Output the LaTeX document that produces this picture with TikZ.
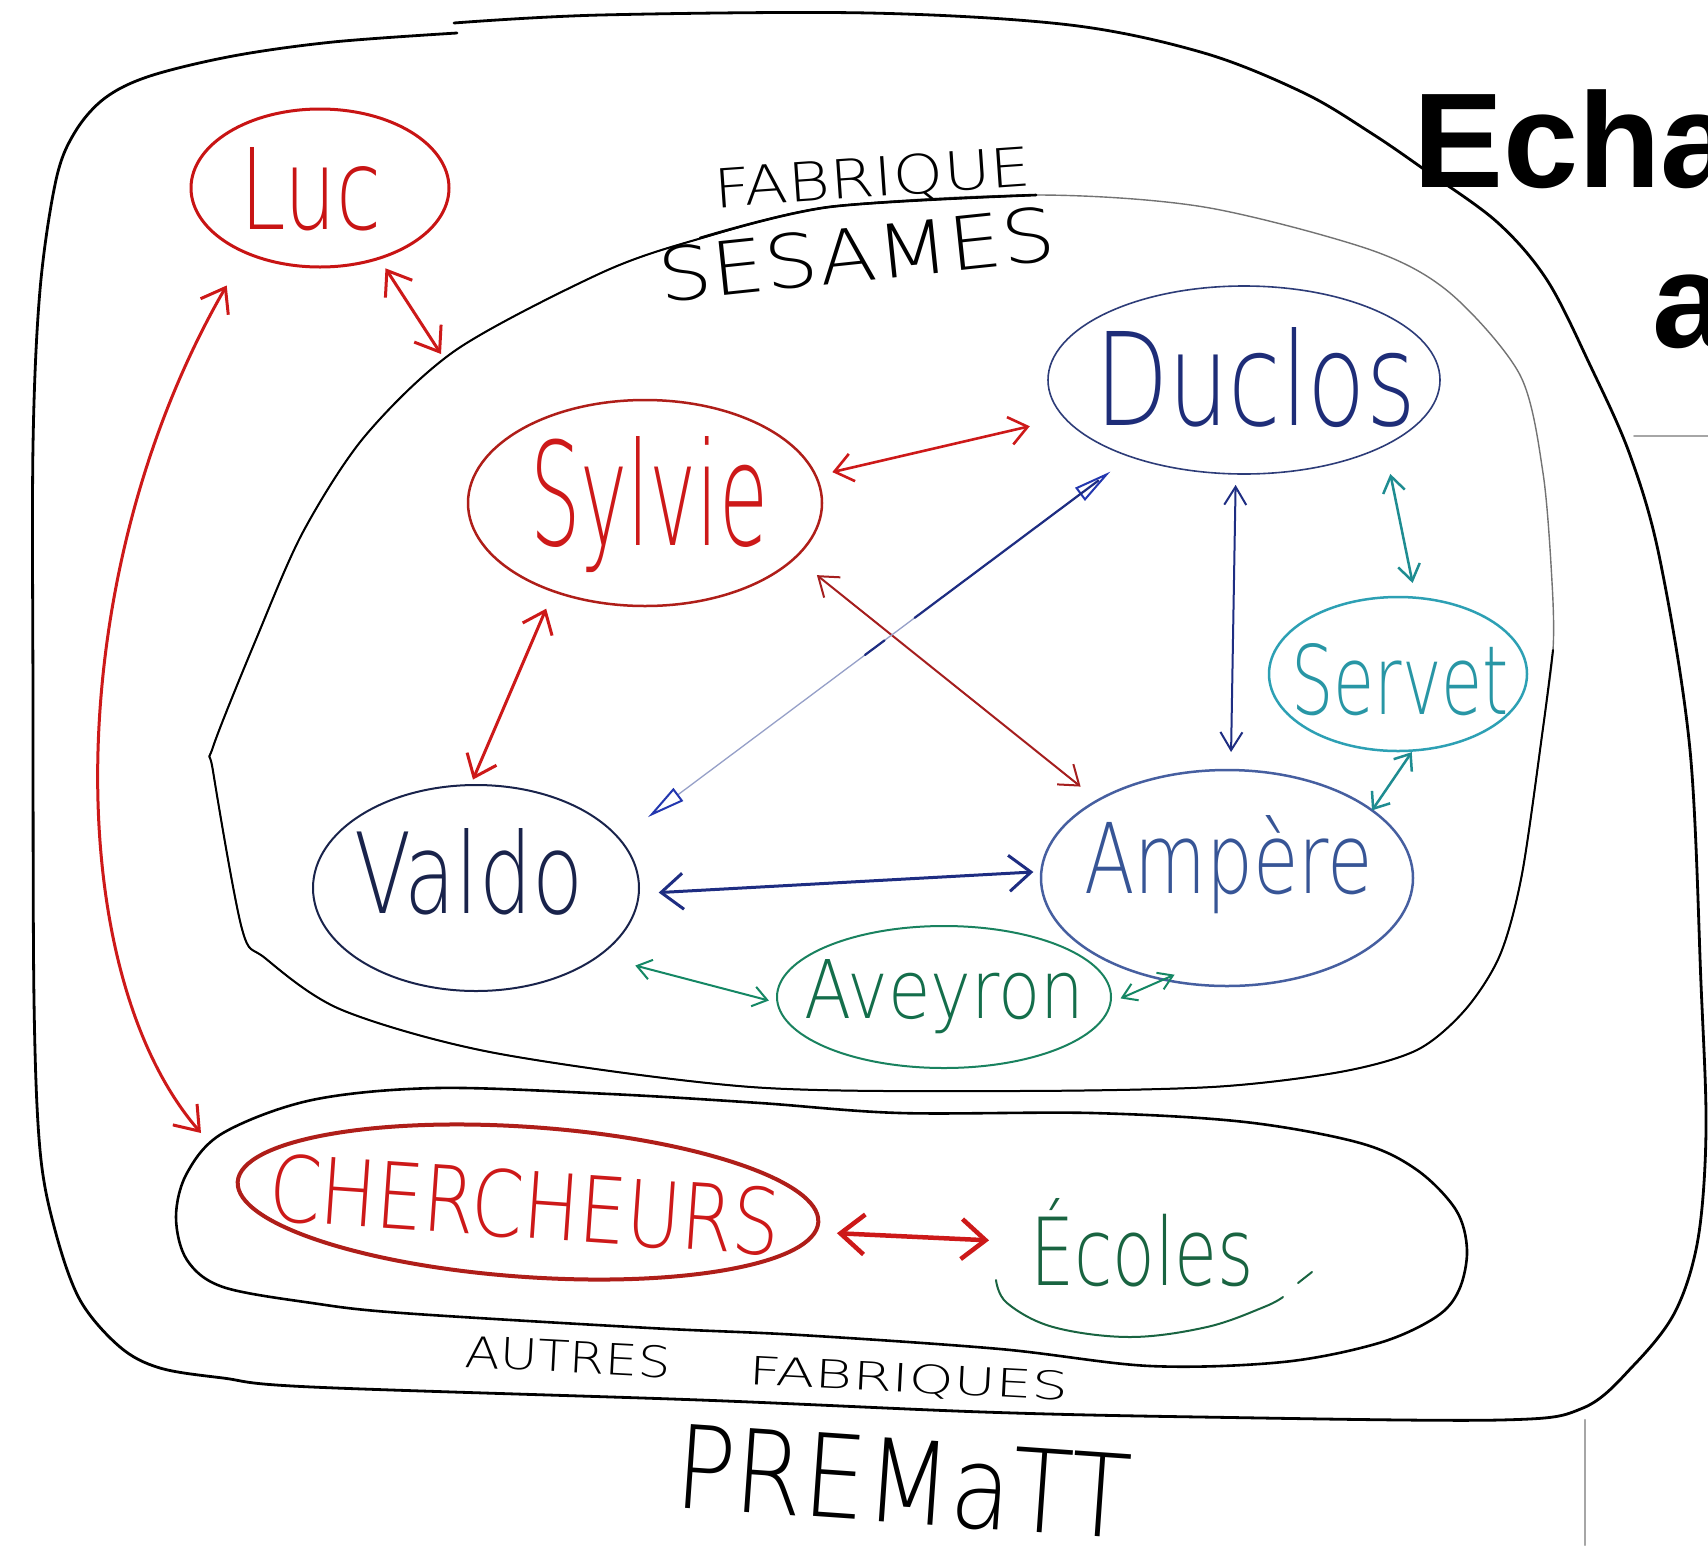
\documentclass[tikz,border=0pt]{standalone}
\usepackage{fontspec}
\usepackage{graphicx}
\usetikzlibrary{arrows.meta,shapes.geometric}
\IfFontExistsTF{DejaVu Sans ExtraLight}{\newfontfamily\hwfont{DejaVu Sans ExtraLight}}{%
  \IfFontExistsTF{DejaVu Sans Light}{\newfontfamily\hwfont{DejaVu Sans Light}}{\newfontfamily\hwfont{Carlito}}}
\newfontfamily\titlefont{Liberation Sans}
\newcommand\hw[3]{\resizebox{#1pt}{#2pt}{\hwfont\fontsize{100}{100}\selectfont #3}}
\definecolor{cRed}{RGB}{205,25,25}
\definecolor{cDkRed}{RGB}{165,30,30}
\definecolor{cLuc}{RGB}{200,20,20}
\definecolor{cSyl}{RGB}{175,30,25}
\definecolor{cDuc}{RGB}{45,60,120}
\definecolor{cDucT}{RGB}{30,45,120}
\definecolor{cSer}{RGB}{45,160,180}
\definecolor{cSerT}{RGB}{40,150,165}
\definecolor{cVal}{RGB}{25,35,75}
\definecolor{cAmp}{RGB}{70,95,160}
\definecolor{cAmpT}{RGB}{55,85,150}
\definecolor{cAve}{RGB}{25,130,95}
\definecolor{cAveT}{RGB}{20,110,75}
\definecolor{cEco}{RGB}{25,100,65}
\definecolor{cNavy}{RGB}{30,45,130}
\definecolor{cBlue}{RGB}{35,55,175}
\definecolor{cFaint}{RGB}{150,160,200}
\definecolor{cTeal}{RGB}{30,140,145}
\definecolor{cGreen}{RGB}{20,135,100}
\tikzset{
  bub/.style={ellipse, inner sep=0pt, outer sep=0pt},
  lbl/.style={inner sep=0pt, outer sep=0pt, anchor=base west},
  boundary/.style={draw=black, line cap=round, line join=round},
  twohead/.style 2 args={<->, >={Straight Barb[length=#1, width=#2]}},
}
\begin{document}
\begin{tikzpicture}[x=1pt,y=-1pt, line cap=round, line join=round]
\useasboundingbox (0,0) rectangle (1708,1545);
\fill[white] (0,0) rectangle (1708,1545);
\clip (0,0) rectangle (1708,1545);

% PREMATT outer boundary
\draw[boundary, line width=2.8pt] plot[smooth, tension=0.55] coordinates {
 (457,33) (333,42) (233,56) (150,76) (105,98) (75,132) (56,180) (40,290) (33,446)
 (33,700) (34,1000) (40,1150) (55,1230) (80,1300) (120,1347) (160,1368) (223,1378)
 (312,1387) (700,1400) (983,1412) (1200,1417) (1500,1420) (1583,1408) (1633,1366)
 (1675,1312) (1698,1239) (1706,1130) (1701,984) (1690,750) (1660,560) (1630,455)
 (1590,365) (1547,280) (1497,222) (1425,170) (1371,133) (1304,93) (1204,53)
 (1070,25) (869,13) (601,15) (454,23)};

% SESAMES boundary (faint everywhere, darker on left/bottom)
\draw[boundary, line width=1.4pt, draw=black!55] plot[smooth cycle, tension=0.5] coordinates {
 (456,350) (365,436) (303,532) (257,637) (213,747) (213,771) (242,929) (265,958)
 (342,1010) (495,1053) (751,1087) (1008,1091) (1212,1087) (1340,1072) (1417,1050)
 (1465,1010) (1500,955) (1522,874) (1543,728) (1553,650) (1552,582) (1543,473)
 (1520,375) (1450,293) (1371,250) (1204,207) (1036,195) (829,207) (695,240) (601,273)};
\draw[boundary, line width=2pt] plot[smooth, tension=0.5] coordinates {
 (1553,650) (1543,728) (1522,874) (1500,955) (1465,1010) (1417,1050) (1340,1072)
 (1212,1087) (1008,1091) (751,1087) (495,1053) (342,1010) (265,958) (242,929)
 (213,771) (213,747) (257,637) (303,532) (365,436) (456,350) (601,273) (695,240)
 (829,207) (1036,195)};
\draw[boundary, line width=2.6pt] plot[smooth, tension=0.5] coordinates {(700,238) (829,207) (1036,195)};

% Autres fabriques boundary
\draw[boundary, line width=2.6pt] plot[smooth cycle, tension=0.55] coordinates {
 (312,1100) (437,1088) (610,1094) (760,1103) (900,1113) (1092,1113) (1245,1122)
 (1360,1143) (1417,1170) (1456,1210) (1467,1250) (1459,1290) (1436,1317) (1379,1343)
 (1283,1362) (1150,1366) (1000,1349) (800,1335) (650,1328) (402,1313) (312,1303)
 (223,1287) (187,1260) (176,1217) (187,1173) (223,1133)};

% ellipses
\node[bub, draw=cLuc, line width=3pt, minimum width=258pt, minimum height=158pt] (luc) at (320,188) {};
\node[bub, draw=cSyl, line width=2.5pt, minimum width=354pt, minimum height=206pt] (sylvie) at (645,503) {};
\node[bub, draw=cDuc, line width=1.6pt, minimum width=392pt, minimum height=188pt] (duclos) at (1244,380) {};
\node[bub, draw=cSer, line width=2.5pt, minimum width=258pt, minimum height=154pt] (servet) at (1398,674) {};
\node[bub, draw=cVal, line width=2pt, minimum width=326pt, minimum height=206pt] (valdo) at (476,888) {};
\node[bub, draw=cAmp, line width=2.5pt, minimum width=372pt, minimum height=216pt] (ampere) at (1227,878) {};
\node[bub, draw=cAve, line width=2pt, minimum width=334pt, minimum height=142pt] (aveyron) at (944,997) {};
\node[bub, draw=cSyl, line width=4pt, minimum width=582pt, minimum height=150pt, rotate=-4] (cher) at (528,1202) {};

% texts
\node[lbl, text=cLuc] (luct) at (240,229) {\hw{141}{82}{Luc}};
\node[lbl, text=cRed] (sylviet) at (530,545) {\hw{238}{109}{Sylvie}};
\node[lbl, text=cDucT] (duclost) at (1095,425) {\hw{321}{98}{Duclos}};
\node[lbl, text=cSerT] (servett) at (1291,714) {\hw{218}{71}{Servet}};
\node[lbl, text=cVal] (valdot) at (354,913) {\hw{229}{85}{Valdo}};
\node[lbl, text=cAmpT] (amperet) at (1084,893) {\hw{289}{78}{Ampère}};
\node[lbl, text=cAveT] (aveyront) at (804,1018) {\hw{280}{59}{Aveyron}};
\node[lbl, text=cRed, rotate=-4] (chert) at (267,1220) {\hw{512}{68}{CHERCHEURS}};
\node[lbl, text=cEco] (ecoles) at (1030,1285) {\hw{224}{87}{Écoles}};
\node[lbl, rotate=4] (fab) at (715,208) {\hw{318}{40}{FABRIQUE}};
\node[lbl, rotate=6] (ses) at (661,302) {\hw{399}{55}{SESAMES}};
\node[lbl, rotate=-3] (autres) at (464,1367) {\hw{206}{32}{AUTRES}};
\node[lbl, rotate=-3] (fabs) at (748,1384) {\hw{320}{29}{FABRIQUES}};
\node[lbl, rotate=-4] (prematt) at (673,1507) {\hw{456}{84}{PREMaTT}};

% Ecoles partial ellipse
\draw[cEco, line width=2pt] plot[smooth, tension=0.6] coordinates {(996,1280) (1007,1303) (1053,1327) (1130,1337) (1207,1327) (1264,1307) (1283,1297)};
\draw[cEco, line width=2pt] (1298,1283) -- (1312,1272);

% free ends
\coordinate (sesA) at (441,354);
\coordinate (afab) at (201,1133);

% connectors
\draw[cRed, line width=3pt, twohead={22pt}{32pt}, shorten <=12pt] (luc.-50) -- (sesA);
\draw[cRed, line width=3pt, twohead={22pt}{32pt}, shorten <=38pt] (luc.221) .. controls (60,574) and (60,970) .. (afab);
\draw[cRed, line width=2.6pt, twohead={18pt}{28pt}, shorten <=17pt, shorten >=36pt] (sylvie.9) -- (duclos.192);
\draw[cDkRed, line width=2pt, twohead={18pt}{26pt}, shorten <=28pt, shorten >=22pt] (sylvie.-20) -- (ampere.149);
\draw[cRed, line width=3pt, twohead={20pt}{32pt}, shorten <=19pt, shorten >=6pt] (sylvie.224) -- (valdo.93);
% Duclos <-> Valdo: faint line with strong open heads, solid navy near Duclos
\draw[cFaint, line width=1.3pt, <->, >={Triangle[open,length=38pt,width=16pt,color=cBlue,line width=2pt]}, shorten <=25pt, shorten >=36pt] (duclos.214) -- (valdo.19);
\draw[cNavy, line width=2.2pt, shorten <=40pt, shorten >=369pt] (duclos.214) -- (valdo.19);
\draw[cNavy, line width=2.2pt, shorten <=307pt, shorten >=307pt] (duclos.214) -- (valdo.19);
\draw[cNavy, line width=2pt, twohead={18pt}{22pt}, shorten <=11pt, shorten >=18pt] (duclos.265) -- (ampere.88);
\draw[cTeal, line width=2.5pt, twohead={16pt}{22pt}, shorten <=29pt, shorten >=15pt] (duclos.-25) -- (servet.77);
\draw[cTeal, line width=2.5pt, twohead={14pt}{22pt}, shorten <=2pt] (servet.-79) -- (ampere.25);
\draw[cNavy, line width=3pt, twohead={22pt}{36pt}, shorten <=20pt, shorten >=8pt] (valdo.-2) -- (ampere.178);
\draw[cGreen, line width=2pt, twohead={14pt}{20pt}, shorten <=38pt, shorten >=9pt] (valdo.-29) -- (aveyron.182);
\draw[cGreen, line width=2pt, twohead={14pt}{18pt}, shorten <=11pt, shorten >=-12pt] (aveyron.-2) -- (ampere.238);
\draw[cRed, line width=4.5pt, twohead={24pt}{40pt}, shorten <=22pt, shorten >=41pt] (cher.-2) -- (ecoles.west);

% title fragment
\node[anchor=base west, inner sep=0pt, font=\titlefont\bfseries\fontsize{135}{160}\selectfont] (title) at (1413,187) {Echa};
\node[anchor=base west, inner sep=0pt, font=\titlefont\bfseries\fontsize{135}{160}\selectfont] (title2) at (1652,347) {a};

% slide rules
\draw[gray!70, line width=2pt] (1634,436) -- (1708,436);
\draw[gray!70, line width=2.5pt] (1585,1420) -- (1585,1545);
\end{tikzpicture}
\end{document}
